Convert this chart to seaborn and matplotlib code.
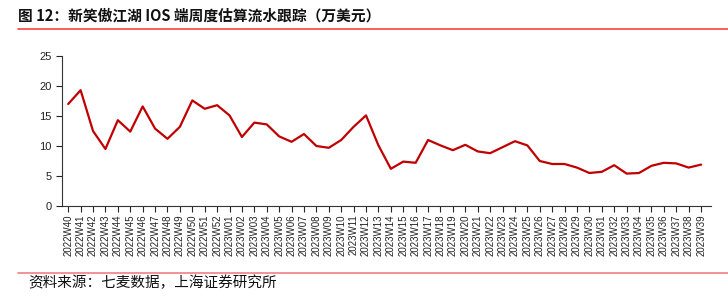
import matplotlib
matplotlib.use("Agg")
import matplotlib.pyplot as plt
import seaborn as sns
import pandas as pd
from matplotlib.lines import Line2D

weeks_2022 = [f"2022W{i:02d}" for i in range(40, 53)]
weeks_2023 = [f"2023W{i:02d}" for i in range(1, 40)]
weeks = weeks_2022 + weeks_2023

revenue = [17.0, 19.3, 12.5, 9.5, 14.3, 12.4, 16.6, 12.9, 11.2, 13.2, 17.6, 16.2, 16.8,
           15.1, 11.5, 13.9, 13.6, 11.6, 10.7, 12.0, 10.0, 9.7, 11.0, 13.2, 15.1,
           10.1, 6.2, 7.4, 7.2, 11.0, 10.1, 9.3, 10.2, 9.1, 8.8, 9.8, 10.8, 10.1,
           7.5, 7.0, 7.0, 6.4, 5.5, 5.7, 6.8, 5.4, 5.5, 6.7, 7.2, 7.1, 6.4, 6.9]

df = pd.DataFrame({"week": weeks, "value": revenue})

sns.set_theme(style="white")
plt.rcParams['font.family'] = ['Liberation Sans', 'Noto Sans CJK SC', 'DejaVu Sans']

fig = plt.figure(figsize=(7.28, 2.98), dpi=100)
ax = fig.add_axes([62/728, 1-206/298, (711-62)/728, 150/298])

sns.lineplot(data=df, x="week", y="value", ax=ax, color="#C00000", linewidth=1.6, sort=False)

ax.set_ylim(0, 25)
ax.set_yticks([0, 5, 10, 15, 20, 25])
ax.set_xlim(-0.5, len(weeks) - 0.5 + 0.3)
ax.set_xticks(range(len(weeks)))
ax.set_xticklabels(weeks, rotation=90, fontsize=7.0, color="#222222")
ax.tick_params(axis='y', labelsize=8, colors="#222222", direction='out', length=4, width=0.8, left=True)
ax.tick_params(axis='x', direction='out', length=4, width=0.8, bottom=True, pad=2)
ax.set_xlabel("")
ax.set_ylabel("")
for s in ["top", "right"]:
    ax.spines[s].set_visible(False)
for s in ["left", "bottom"]:
    ax.spines[s].set_color("#333333")
    ax.spines[s].set_linewidth(0.8)

fig.text(18/728, 1-15/298, "图 12：新笑傲江湖 IOS 端周度估算流水跟踪（万美元）",
         fontsize=10.6, fontweight='bold', va='center', ha='left',
         family=['Noto Sans CJK SC', 'DejaVu Sans'], color="#111111")
fig.add_artist(Line2D([18/728, 1.0], [1-28.5/298, 1-28.5/298], transform=fig.transFigure,
                      color="#FF4040", linewidth=1.2))
fig.add_artist(Line2D([18/728, 1.0], [1-272.5/298, 1-272.5/298], transform=fig.transFigure,
                      color="#F08080", linewidth=1.2))
fig.text(28/728, 1-283/298, "资料来源：七麦数据，上海证券研究所",
         fontsize=10.5, style='italic', va='center', ha='left',
         family=['Noto Sans CJK SC', 'DejaVu Sans'], color="#111111")

fig.savefig("out.png", dpi=100)
